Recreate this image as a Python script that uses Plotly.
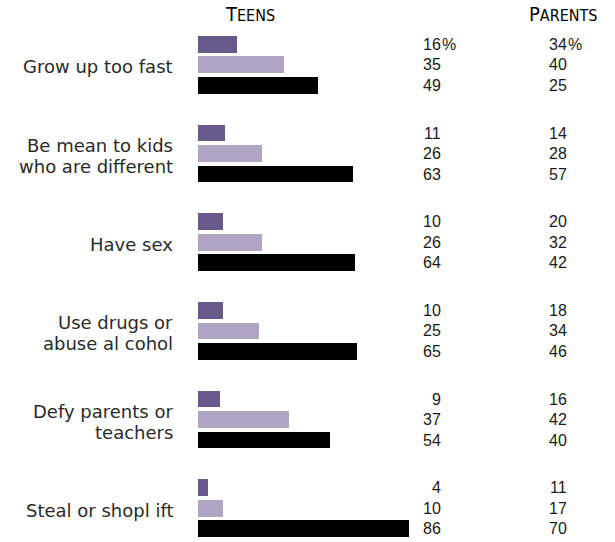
import plotly.graph_objects as go

categories = ["Grow up too fast", "Be mean to kids<br>who are different", "Have sex",
              "Use drugs or<br>abuse al cohol", "Defy parents or<br>teachers", "Steal or shopl ift"]
teens_a = [16, 11, 10, 10, 9, 4]
teens_b = [35, 26, 26, 25, 37, 10]
teens_c = [49, 63, 64, 65, 54, 86]
parents_a = [34, 14, 20, 18, 16, 11]
parents_b = [40, 28, 32, 34, 42, 17]
parents_c = [25, 57, 42, 46, 40, 70]

colors = ["#67598A", "#B0A6C3", "#000000"]
GROUP = 4.327  # slots between groups
W, H = 615, 542
PX_SLOT = 20.5
Y0 = 44.3
PX_UNIT = 2.453
X0 = 198

fig = go.Figure()
teens = [teens_a, teens_b, teens_c]
parents = [parents_a, parents_b, parents_c]
for j in range(3):
    pos = [i * GROUP + j for i in range(len(categories))]
    fig.add_trace(go.Bar(x=teens[j], y=pos, orientation="h", width=0.815,
                         marker=dict(color=colors[j], line=dict(width=0)),
                         hoverinfo="skip", showlegend=False))

numfont = dict(family="Liberation Sans, Arial", size=16, color="#1a1a1a")
labfont = dict(family="DejaVu Sans", size=18, color="#2a2a2a")
annotations = []
for i, cat in enumerate(categories):
    mid = i * GROUP + 1 + 2 / PX_SLOT
    lines = cat.split("<br>")
    n = len(lines)
    for k, ln in enumerate(lines):
        off = (k - (n - 1) / 2) * 21 / PX_SLOT
        annotations.append(dict(x=175 / W, xref="paper", y=mid + off, yref="y", text=ln,
                                xanchor="right", yanchor="middle", align="right",
                                showarrow=False, font=labfont))
    for j in range(3):
        p = i * GROUP + j
        for col, xr in ((teens, 442.5), (parents, 569)):
            annotations.append(dict(x=xr / W, xref="paper", y=p, yref="y",
                                    text=str(col[j][i]), xanchor="right", yanchor="middle",
                                    showarrow=False, font=numfont))
            if i == 0 and j == 0:
                annotations.append(dict(x=(xr - 3) / W, xref="paper", y=p, yref="y",
                                        text="%", xanchor="left", yanchor="middle",
                                        showarrow=False, font=numfont))

hdrfont = dict(family="DejaVu Sans Condensed, DejaVu Sans", size=20, color="#000000")
for txt, xc in (("T<span style='font-size:16px'>EENS</span>", 250),
                ("P<span style='font-size:16px'>ARENTS</span>", 563.5)):
    annotations.append(dict(x=xc / W, xref="paper", y=1 - 14 / H, yref="paper", text=txt,
                            xanchor="center", yanchor="middle", showarrow=False, font=hdrfont))

fig.update_layout(
    width=W, height=H, margin=dict(l=0, r=0, t=0, b=0),
    paper_bgcolor="white", plot_bgcolor="white",
    xaxis=dict(range=[-X0 / PX_UNIT, (W - X0) / PX_UNIT], visible=False, fixedrange=True),
    yaxis=dict(range=[(H - Y0) / PX_SLOT, -Y0 / PX_SLOT], visible=False, fixedrange=True),
    annotations=annotations, bargap=0,
)
fig.write_html("out.html", config={"displayModeBar": False},
               post_script="document.body.style.margin='0';document.body.style.overflow='hidden';")
